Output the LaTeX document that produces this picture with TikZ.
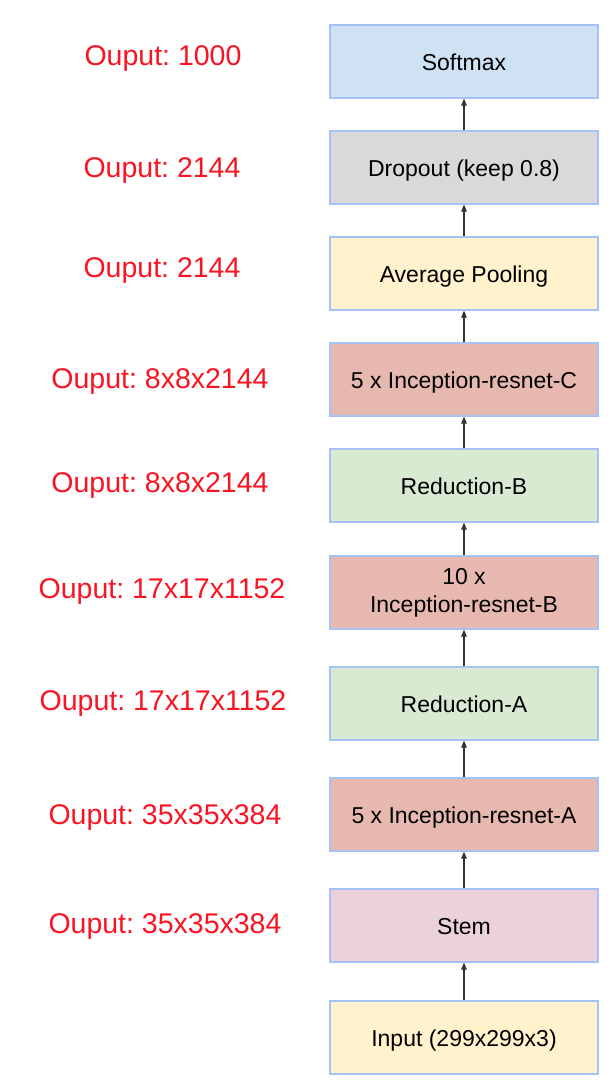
\documentclass[tikz,border=0pt]{standalone}
\usepackage{fontspec}
\setmainfont{Liberation Sans}
\usetikzlibrary{arrows.meta}
\frenchspacing
\definecolor{lblred}{RGB}{250,20,35}
\definecolor{bordblue}{RGB}{164,194,244}
\definecolor{cblue}{RGB}{207,226,243}
\definecolor{cgray}{RGB}{217,217,217}
\definecolor{cyellow}{RGB}{255,242,204}
\definecolor{cred}{RGB}{230,184,175}
\definecolor{cgreen}{RGB}{217,234,211}
\definecolor{cpink}{RGB}{234,209,220}
\definecolor{arrgray}{RGB}{51,51,51}
\tikzset{
  layerbox/.style={draw=bordblue, line width=1.2pt, minimum width=268pt, minimum height=73pt,
    inner sep=0pt, align=center, font=\fontsize{23}{28}\selectfont, text=black},
  onebox/.style={layerbox, text height=17pt, text depth=0pt},
  outlbl/.style={anchor=base, text=lblred, font=\fontsize{28.5}{32}\selectfont, inner sep=0pt},
  flow/.style={draw=arrgray, line width=1.1pt, -{Triangle[width=5.5pt,length=7pt]}}
}
\begin{document}
\begin{tikzpicture}[x=1pt,y=-1pt]
\useasboundingbox[fill=white] (0,0) rectangle (612,1090);
% boxes
\node[onebox, fill=cblue]     (soft) at (464,61.5) {Softmax};
\node[onebox, fill=cgray]     (drop) at (464,167.5) {Dropout (keep 0.8)};
\node[onebox, fill=cyellow]   (pool) at (464,273.5) {Average Pooling};
\node[onebox, fill=cred]      (incc) at (464,379.5) {5 x Inception-resnet-C};
\node[onebox, fill=cgreen]    (redb) at (464,485.5) {Reduction-B};
\node[layerbox, fill=cred]    (incb) at (464,592.5) {10 x\\Inception-resnet-B};
\node[onebox, fill=cgreen]    (reda) at (464,703.5) {Reduction-A};
\node[onebox, fill=cred]      (inca) at (464,814.5) {5 x Inception-resnet-A};
\node[onebox, fill=cpink]     (stem) at (464,925.5) {Stem};
\node[onebox, fill=cyellow]   (inp)  at (464,1037.5) {Input (299x299x3)};
% arrows
\draw[flow] (drop) -- (soft);
\draw[flow] (pool) -- (drop);
\draw[flow] (incc) -- (pool);
\draw[flow] (redb) -- (incc);
\draw[flow] (incb) -- (redb);
\draw[flow] (reda) -- (incb);
\draw[flow] (inca) -- (reda);
\draw[flow] (stem) -- (inca);
\draw[flow] (inp) -- (stem);
% labels
\node[outlbl] (l1) at (163,65)  {Ouput: 1000};
\node[outlbl] (l2) at (162,177) {Ouput: 2144};
\node[outlbl] (l3) at (162,277) {Ouput: 2144};
\node[outlbl] (l4) at (160,388) {Ouput: 8x8x2144};
\node[outlbl] (l5) at (160,492) {Ouput: 8x8x2144};
\node[outlbl] (l6) at (162,598) {Ouput: 17x17x1152};
\node[outlbl] (l7) at (163,710) {Ouput: 17x17x1152};
\node[outlbl] (l8) at (165,824) {Ouput: 35x35x384};
\node[outlbl] (l9) at (165,933) {Ouput: 35x35x384};
\end{tikzpicture}
\end{document}
